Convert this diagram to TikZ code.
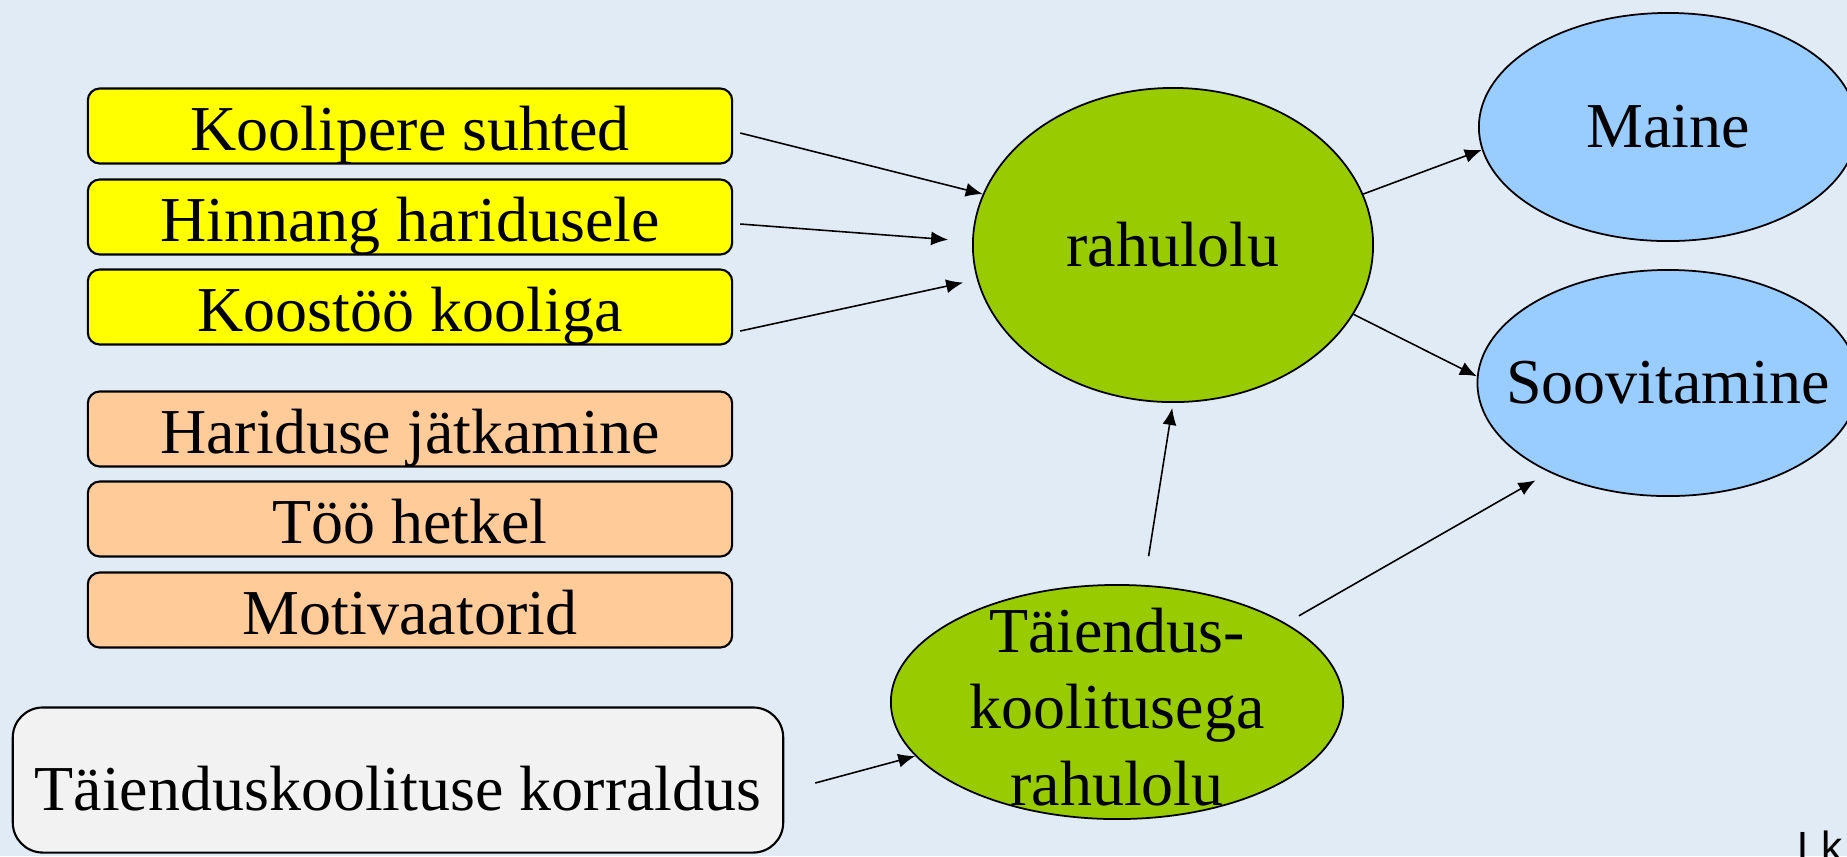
\documentclass[tikz,border=0pt]{standalone}
\usepackage{fontspec}
\setmainfont{Liberation Serif}
\newfontfamily\lksans{Liberation Sans}
\usepackage{xcolor}
\usetikzlibrary{shapes.geometric,arrows,arrows.meta}
\definecolor{bgblue}{RGB}{225,235,246}
\definecolor{boxyellow}{RGB}{255,255,0}
\definecolor{boxorange}{RGB}{255,204,153}
\definecolor{boxgray}{RGB}{242,242,242}
\definecolor{ellgreen}{RGB}{153,204,0}
\definecolor{ellblue}{RGB}{153,204,255}
\tikzset{factor/.style={draw,line width=0.6pt,rounded corners=0.12cm,minimum width=6.44cm,minimum height=0.75cm,inner sep=0pt,text height=0.55cm,text depth=0.07cm},
	FYnode/.style={factor,fill=boxyellow},
	FOnode/.style={factor,fill=boxorange},
	FGnode/.style={draw,line width=0.6pt,rounded corners=0.3cm,fill=boxgray,minimum width=7.70cm,minimum height=1.45cm,inner sep=0pt,text height=0.67cm,text depth=0.07cm},
	ELnode/.style={ellipse,draw,line width=0.5pt,inner sep=0pt}}

\begin{document}
\begin{tikzpicture}[x=0.01cm,y=-0.01cm,font=\fontsize{18.2}{21.8}\selectfont,>={Latex[length=0.17cm,width=0.14cm]}]
	\useasboundingbox (0,0) rectangle (1847,856);
	\clip (0,0) rectangle (1847,856);
	\fill[bgblue] (0,0) rectangle (1847,856);
	%
	\node[FYnode] (k1) at (410,126) {Koolipere suhted};
	\node[FYnode] (k2) at (410,217) {Hinnang haridusele};
	\node[FYnode] (k3) at (410,307) {Koostöö kooliga};
	\node[FOnode] (o1) at (410,429) {Hariduse jätkamine};
	\node[FOnode] (o2) at (410,519) {Töö hetkel};
	\node[FOnode] (o3) at (410,610) {Motivaatorid};
	\node[FGnode] (kor) at (398,780) {Täienduskoolituse korraldus};
	%
	\node[ELnode,fill=ellgreen,minimum width=4.00cm,minimum height=3.14cm] (rah) at (1173,245) {rahulolu};
	\node[ELnode,fill=ellblue,minimum width=3.78cm,minimum height=2.28cm] (maine) at (1668,127) {Maine};
	\node[ELnode,fill=ellblue,minimum width=3.78cm,minimum height=2.26cm,inner xsep=-0.27cm] (soov) at (1668,383) {Soovitamine};
	\node[ELnode,fill=ellgreen,minimum width=4.52cm,minimum height=2.34cm] (tae) at (1117,702) {};
	\node[align=center,inner sep=0pt] (taetext) at (1117,707) {Täiendus-\\koolitusega\\rahulolu};
	%
	\node[font=\lksans\fontsize{12}{14}\selectfont,anchor=base west,inner sep=0pt] (lk) at (1797,861) {Lk 3};
	%
	\path[->,line width=0.45pt]
	([shift={(7,7)}]k1.east) edge (rah.165)
	([shift={(7,7)}]k2.east) edge[shorten >=0.24cm] (rah.179)
	([shift={(7,24)}]k3.east) edge[shorten >=0.14cm] (rah.190.6)
	(rah.15) edge (maine.187)
	(rah.339) edge (soov.178)
	(tae.77.6) edge[shorten <=0.29cm,shorten >=0.05cm] (rah.270)
	(tae.25.2) edge[shorten <=0.15cm,shorten >=0.16cm] (soov.217.3)
	([shift={(31,3)}]kor.east) edge (tae.195);
\end{tikzpicture}
\end{document}
